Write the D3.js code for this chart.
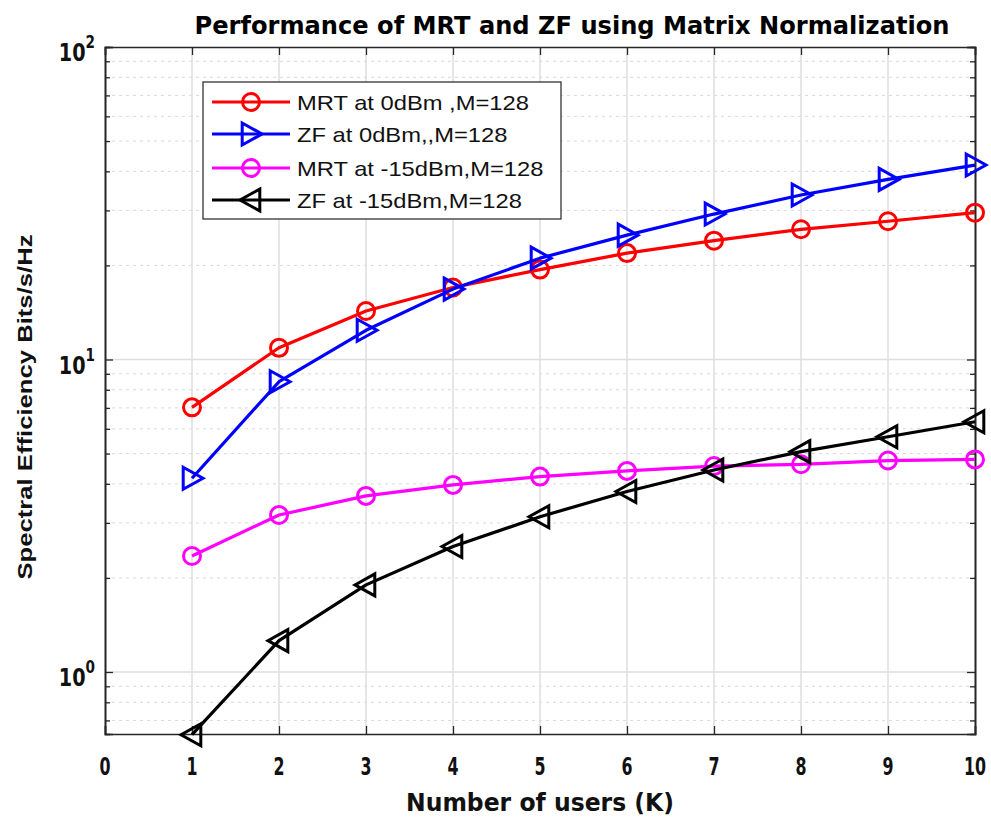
<!DOCTYPE html>
<html><head><meta charset="utf-8">
<script src="https://cdn.jsdelivr.net/npm/d3@7"></script>
<style>body{margin:0;background:#fff}svg{display:block}</style>
</head><body>
<svg id="c" width="991" height="818"></svg>
<script>
const users = [1,2,3,4,5,6,7,8,9,10];
const mrt0 = [7.03,10.9,14.3,17.0,19.4,21.9,24.0,26.1,27.7,29.5];
const zf0 = [4.17,8.49,12.4,16.8,21.1,25.0,29.2,33.6,37.7,41.9];
const mrt15 = [2.35,3.18,3.66,3.97,4.22,4.40,4.56,4.62,4.75,4.79];
const zf15 = [0.63,1.26,1.90,2.52,3.14,3.78,4.43,5.07,5.66,6.32];
const xTicks = [0,1,2,3,4,5,6,7,8,9,10];
const yDecades = [1,10,100];
const seriesNames = ["MRT at 0dBm ,M=128","ZF at 0dBm,,M=128","MRT at -15dBm,M=128","ZF at -15dBm,M=128"];
const seriesColors = ["#ff0000","#0000ff","#ff00ff","#000000"];
const seriesMarkers = ["circle","right","circle","left"];
const seriesData = [mrt0, zf0, mrt15, zf15];
const titleText = "Performance  of  MRT  and  ZF  using  Matrix Normalization";
const xLabel = "Number of users (K)";
const yLabel = "Spectral Efficiency Bits/s/Hz";

const L=105, R=975, T=47, B=734;
const svg = d3.select("#c");
const x = d3.scaleLinear().domain([0,10]).range([L,R]);
const yMin = Math.pow(10, -(B-672)/312.5);
const y = d3.scaleLog().domain([yMin,100]).range([B,T]);

const minors = [];
[0.1,1,10].forEach(d=>{for(let k=2;k<=9;k++){const v=d*k; if(v>=yMin && v<100) minors.push(v);}});

const g = svg.append("g");
g.selectAll(".ming").data(minors).join("line")
 .attr("x1",L).attr("x2",R).attr("y1",d=>y(d)).attr("y2",d=>y(d))
 .attr("stroke","#d9d9d9").attr("stroke-width",1).attr("stroke-dasharray","3,4");
g.selectAll(".xg").data(xTicks.slice(1,-1)).join("line")
 .attr("x1",d=>x(d)).attr("x2",d=>x(d)).attr("y1",T).attr("y2",B)
 .attr("stroke","#dedede").attr("stroke-width",1.5);
g.selectAll(".yg").data(yDecades.filter(d=>d<100)).join("line")
 .attr("x1",L).attr("x2",R).attr("y1",d=>y(d)).attr("y2",d=>y(d))
 .attr("stroke","#dedede").attr("stroke-width",1.5);

const ax = "#262626";
const xb = d3.axisBottom(x).tickValues(xTicks).tickSize(-8).tickFormat("");
const xt = d3.axisTop(x).tickValues(xTicks).tickSize(-8).tickFormat("");
const yl = d3.axisLeft(y).tickValues(yDecades).tickSize(-8).tickFormat("");
const yr = d3.axisRight(y).tickValues(yDecades).tickSize(-8).tickFormat("");
const ylm = d3.axisLeft(y).tickValues(minors).tickSize(-5).tickFormat("");
const yrm = d3.axisRight(y).tickValues(minors).tickSize(-5).tickFormat("");
function style(sel){sel.selectAll("path").attr("stroke",ax).attr("stroke-width",1.6);sel.selectAll("line").attr("stroke",ax).attr("stroke-width",1.3);}
svg.append("g").attr("transform",`translate(0,${B})`).call(xb).call(style);
svg.append("g").attr("transform",`translate(0,${T})`).call(xt).call(style);
svg.append("g").attr("transform",`translate(${L},0)`).call(yl).call(style);
svg.append("g").attr("transform",`translate(${R},0)`).call(yr).call(style);
svg.append("g").attr("transform",`translate(${L},0)`).call(ylm).call(style);
svg.append("g").attr("transform",`translate(${R},0)`).call(yrm).call(style);

const bold = "'DejaVu Sans','Liberation Sans',sans-serif";
svg.selectAll(".xl").data(xTicks).join("text")
 .attr("transform",d=>`translate(${x(d)},${B+41}) scale(0.66,1)`).attr("text-anchor","middle")
 .attr("font-family",bold).attr("font-weight","bold").attr("font-size",24)
 .attr("fill","#111").text(d=>d);
const ylab = svg.selectAll(".yl").data(yDecades).join("text")
 .attr("transform",d=>`translate(${L-10},${y(d)+14}) scale(0.8,1)`).attr("text-anchor","end")
 .attr("font-family",bold).attr("font-weight","bold").attr("font-size",24).attr("fill","#111");
ylab.append("tspan").text("10");
ylab.append("tspan").attr("dy",-13).attr("font-size",17).text(d=>Math.round(Math.log10(d)));

svg.append("text").attr("x",572).attr("y",34).attr("text-anchor","middle")
 .attr("font-family",bold).attr("font-weight","bold").attr("font-size",25)
 .attr("fill","#000").attr("textLength",755).attr("lengthAdjust","spacingAndGlyphs").text(titleText);
svg.append("text").attr("x",540).attr("y",811).attr("text-anchor","middle")
 .attr("font-family",bold).attr("font-weight","bold").attr("font-size",25)
 .attr("fill","#111").attr("textLength",268).attr("lengthAdjust","spacingAndGlyphs").text(xLabel);
svg.append("text").attr("transform","translate(32,407) rotate(-90)").attr("text-anchor","middle")
 .attr("font-family","'Liberation Sans',Arial,sans-serif").attr("font-weight","bold").attr("font-size",20)
 .attr("fill","#111").attr("textLength",345).attr("lengthAdjust","spacingAndGlyphs").text(yLabel);

function markerPath(type, s){
  if(type==="right") return `M${-s*0.8},${-s}L${s},0L${-s*0.8},${s}Z`;
  if(type==="left") return `M${s*0.8},${-s}L${-s},0L${s*0.8},${s}Z`;
  return null;
}
const line = d3.line().x((d,i)=>x(users[i])).y(d=>y(d));
const plot = svg.append("g");
seriesData.forEach((vals,si)=>{
  const c = seriesColors[si];
  plot.append("path").datum(vals).attr("d",line).attr("fill","none").attr("stroke",c).attr("stroke-width",3.2).attr("stroke-linejoin","round");
  const pts = plot.selectAll(null).data(vals).join("g").attr("transform",(d,i)=>`translate(${x(users[i])},${y(d)})`);
  if(seriesMarkers[si]==="circle") pts.append("circle").attr("r",8.5).attr("fill","none").attr("stroke",c).attr("stroke-width",3);
  else pts.append("path").attr("d",markerPath(seriesMarkers[si],11)).attr("fill","none").attr("stroke",c).attr("stroke-width",3).attr("stroke-linejoin","miter");
});

const lg = svg.append("g");
lg.append("rect").attr("x",203).attr("y",82).attr("width",358).attr("height",137).attr("fill","#fff").attr("stroke","#333").attr("stroke-width",1.3);
const ly = [102,134,168,200];
seriesNames.forEach((n,i)=>{
  const c=seriesColors[i];
  lg.append("line").attr("x1",212).attr("x2",290).attr("y1",ly[i]).attr("y2",ly[i]).attr("stroke",c).attr("stroke-width",3.2);
  const m = lg.append("g").attr("transform",`translate(251,${ly[i]})`);
  if(seriesMarkers[i]==="circle") m.append("circle").attr("r",8.5).attr("fill","none").attr("stroke",c).attr("stroke-width",3);
  else m.append("path").attr("d",markerPath(seriesMarkers[i],11)).attr("fill","none").attr("stroke",c).attr("stroke-width",3);
  const t = lg.append("text").attr("x",297).attr("y",ly[i]+8).attr("font-family","'Liberation Sans',Arial,sans-serif")
   .attr("font-size",21).attr("fill","#111").text(n);
  const w = t.node().getComputedTextLength();
  t.attr("textLength",w*1.13).attr("lengthAdjust","spacingAndGlyphs");
});
</script>
</body></html>
